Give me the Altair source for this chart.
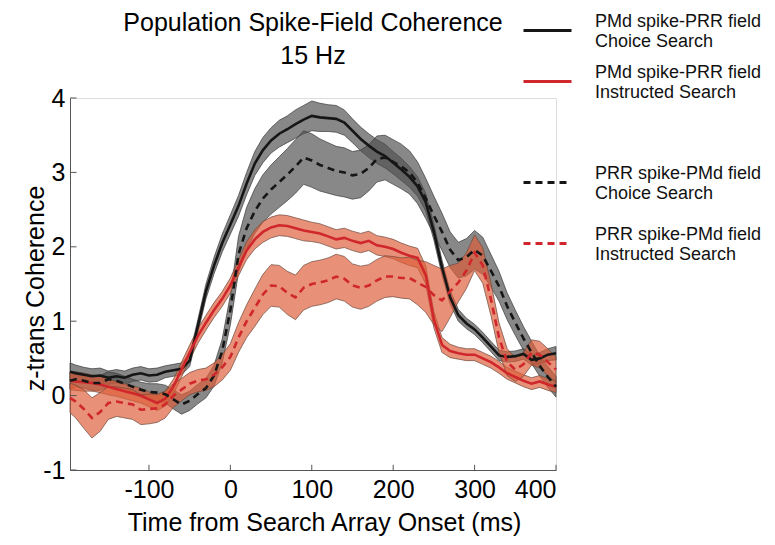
import altair as alt
import pandas as pd

# ---------------- data ----------------
times = [-197] + list(range(-190, 401, 10))

names = [
    "PMd spike-PRR field|Choice Search",
    "PMd spike-PRR field|Instructed Search",
    "PRR spike-PMd field|Choice Search",
    "PRR spike-PMd field|Instructed Search",
]

# PMd spike-PRR field, Choice Search (black solid)
pmd_choice_mean = [0.32, 0.30, 0.28, 0.26, 0.27, 0.24, 0.26, 0.24, 0.28, 0.30,
                   0.27, 0.28, 0.32, 0.34, 0.36, 0.47, 0.93, 1.40, 1.75, 2.05,
                   2.30, 2.55, 2.85, 3.12, 3.30, 3.43, 3.52, 3.58, 3.65, 3.71,
                   3.76, 3.74, 3.73, 3.72, 3.67, 3.56, 3.45, 3.36, 3.28, 3.22,
                   3.13, 3.04, 2.94, 2.81, 2.60, 2.20, 1.72, 1.32, 1.08, 0.97,
                   0.89, 0.78, 0.66, 0.54, 0.52, 0.53, 0.56, 0.48, 0.50, 0.55,
                   0.57]
pmd_choice_sem = [0.12, 0.11, 0.10, 0.10, 0.10, 0.09, 0.09, 0.09, 0.09, 0.09,
                  0.09, 0.09, 0.08, 0.08, 0.08, 0.08, 0.09, 0.10, 0.11, 0.12,
                  0.13, 0.14, 0.15, 0.16, 0.17, 0.17, 0.18, 0.18, 0.19, 0.19,
                  0.20, 0.19, 0.18, 0.18, 0.17, 0.16, 0.16, 0.16, 0.16, 0.16,
                  0.15, 0.15, 0.14, 0.13, 0.12, 0.11, 0.10, 0.09, 0.08, 0.07,
                  0.07, 0.07, 0.07, 0.07, 0.07, 0.07, 0.07, 0.07, 0.08, 0.08,
                  0.09]

# PMd spike-PRR field, Instructed Search (red solid)
pmd_instr_mean = [0.20, 0.19, 0.18, 0.17, 0.15, 0.12, 0.09, 0.06, 0.03, 0.00,
                  -0.05, -0.10, -0.04, 0.12, 0.35, 0.58, 0.80, 0.98, 1.15, 1.30,
                  1.48, 1.72, 1.95, 2.10, 2.20, 2.26, 2.29, 2.28, 2.25, 2.22,
                  2.20, 2.18, 2.14, 2.10, 2.12, 2.08, 2.05, 2.08, 2.02, 2.00,
                  1.97, 1.92, 1.88, 1.85, 1.62, 1.02, 0.68, 0.60, 0.57, 0.55,
                  0.55, 0.50, 0.45, 0.38, 0.30, 0.25, 0.20, 0.16, 0.19, 0.15,
                  0.12]
pmd_instr_sem = [0.12, 0.12, 0.12, 0.11, 0.11, 0.11, 0.10, 0.10, 0.10, 0.10,
                 0.10, 0.10, 0.10, 0.10, 0.10, 0.10, 0.10, 0.10, 0.10, 0.10,
                 0.10, 0.11, 0.12, 0.13, 0.14, 0.14, 0.14, 0.14, 0.14, 0.14,
                 0.13, 0.13, 0.13, 0.13, 0.13, 0.13, 0.13, 0.13, 0.13, 0.13,
                 0.13, 0.13, 0.13, 0.13, 0.12, 0.11, 0.10, 0.09, 0.08, 0.08,
                 0.08, 0.08, 0.08, 0.08, 0.08, 0.08, 0.08, 0.08, 0.08, 0.08,
                 0.08]

# PRR spike-PMd field, Choice Search (black dashed)
prr_choice_mean = [0.20, 0.22, 0.20, 0.17, 0.17, 0.22, 0.20, 0.16, 0.12, 0.08,
                   0.05, 0.04, 0.02, -0.05, -0.12, -0.07, 0.02, 0.10, 0.27, 0.60,
                   1.15, 1.90, 2.25, 2.48, 2.65, 2.77, 2.87, 2.97, 3.08, 3.20,
                   3.16, 3.10, 3.06, 3.02, 3.00, 2.96, 2.98, 3.06, 3.18, 3.20,
                   3.14, 3.08, 3.00, 2.86, 2.65, 2.42, 2.20, 1.96, 1.82, 1.86,
                   1.96, 1.88, 1.68, 1.47, 1.20, 0.98, 0.77, 0.58, 0.40, 0.25,
                   0.12]
prr_choice_sem = [0.11, 0.10, 0.10, 0.10, 0.10, 0.10, 0.10, 0.10, 0.10, 0.10,
                  0.11, 0.12, 0.12, 0.13, 0.13, 0.13, 0.13, 0.13, 0.14, 0.16,
                  0.20, 0.24, 0.28, 0.30, 0.32, 0.33, 0.34, 0.35, 0.36, 0.36,
                  0.36, 0.35, 0.34, 0.33, 0.33, 0.32, 0.32, 0.31, 0.31, 0.30,
                  0.30, 0.30, 0.29, 0.28, 0.27, 0.26, 0.25, 0.24, 0.24, 0.25,
                  0.26, 0.25, 0.22, 0.20, 0.18, 0.17, 0.16, 0.15, 0.14, 0.14,
                  0.14]

# PRR spike-PMd field, Instructed Search (red dashed)
prr_instr_mean = [-0.03, -0.08, -0.18, -0.30, -0.22, -0.10, -0.08, -0.10, -0.12, -0.19,
                  -0.18, -0.17, -0.12, 0.00, 0.08, 0.16, 0.20, 0.22, 0.28, 0.38,
                  0.52, 0.78, 1.00, 1.18, 1.36, 1.48, 1.47, 1.38, 1.32, 1.45,
                  1.50, 1.52, 1.55, 1.60, 1.57, 1.48, 1.45, 1.48, 1.55, 1.60,
                  1.60, 1.58, 1.58, 1.52, 1.46, 1.35, 1.28, 1.40, 1.52, 1.68,
                  1.92, 1.75, 1.30, 0.78, 0.45, 0.35, 0.42, 0.58, 0.55, 0.45,
                  0.35]
prr_instr_sem = [0.20, 0.22, 0.26, 0.27, 0.26, 0.22, 0.20, 0.20, 0.20, 0.20,
                 0.20, 0.19, 0.18, 0.16, 0.15, 0.15, 0.15, 0.15, 0.16, 0.17,
                 0.18, 0.20, 0.22, 0.25, 0.27, 0.28, 0.28, 0.29, 0.30, 0.30,
                 0.30, 0.30, 0.30, 0.30, 0.30, 0.29, 0.29, 0.28, 0.28, 0.28,
                 0.27, 0.27, 0.28, 0.30, 0.34, 0.40, 0.42, 0.35, 0.26, 0.24,
                 0.24, 0.24, 0.22, 0.20, 0.18, 0.16, 0.16, 0.17, 0.18, 0.18,
                 0.17]

x_ticks = [-100, 0, 100, 200, 300, 400]
y_ticks = [-1, 0, 1, 2, 3, 4]
x_domain = [-197, 400]
y_domain = [-1, 4]

# ---------------- build table ----------------
rows = []
for name, m, s in zip(names,
                      [pmd_choice_mean, pmd_instr_mean, prr_choice_mean, prr_instr_mean],
                      [pmd_choice_sem, pmd_instr_sem, prr_choice_sem, prr_instr_sem]):
    for t, mv, sv in zip(times, m, s):
        rows.append({"t": t, "series": name, "mean": mv, "lo": mv - sv, "hi": mv + sv})
df = pd.DataFrame(rows)

FONT = "Liberation Sans"
BLACK = "#161616"
RED = "#d0272d"

xscale = alt.Scale(domain=x_domain, nice=False, zero=False)
yscale = alt.Scale(domain=y_domain, nice=False, zero=False)

xaxis = alt.Axis(values=x_ticks, title="Time from Search Array Onset (ms)",
                 labelExpr="'' + datum.value", tickSize=0, labelPadding=7,
                 labelFontSize=25, labelFont=FONT, labelColor="black",
                 titleFontSize=25, titleFont=FONT, titleFontWeight="normal",
                 titleColor="black", titleBaseline="alphabetic",
                 titleX=254, titleY=60, titleAnchor="middle",
                 domainColor="#555555", domainWidth=1, grid=False)
yaxis = alt.Axis(values=y_ticks, title="z-trans Coherence",
                 labelExpr="'' + datum.value", tickSize=0, labelPadding=5,
                 labelFontSize=25, labelFont=FONT, labelColor="black",
                 titleFontSize=25, titleFont=FONT, titleFontWeight="normal",
                 titleColor="black", titleBaseline="alphabetic", titleAngle=-90,
                 titleX=-27, titleY=190, titleAlign="center",
                 domainColor="#555555", domainWidth=1, grid=False)

base = alt.Chart(df)

gray_bands = base.transform_filter(
    alt.FieldOneOfPredicate(field="series", oneOf=[names[0], names[2]])
).mark_area(fill="#505050", fillOpacity=0.68, stroke="#3c3c3c",
            strokeWidth=0.8, strokeOpacity=0.9).encode(
    x=alt.X("t:Q", scale=xscale, axis=xaxis),
    y=alt.Y("lo:Q", scale=yscale, axis=yaxis),
    y2="hi:Q",
    detail="series:N",
)

salmon_bands = base.transform_filter(
    alt.FieldOneOfPredicate(field="series", oneOf=[names[1], names[3]])
).mark_area(fill="#dd5d38", fillOpacity=0.68, stroke="#6e4a3e",
            strokeWidth=0.8, strokeOpacity=0.9).encode(
    x=alt.X("t:Q", scale=xscale),
    y=alt.Y("lo:Q", scale=yscale),
    y2="hi:Q",
    detail="series:N",
)

legend_common = dict(
    orient="none", title=None, symbolType="stroke", symbolSize=2304,
    symbolStrokeWidth=3, labelFont=FONT, labelFontSize=18, labelColor="#111111",
    labelOffset=22, labelLimit=400, padding=0,
    labelExpr="split(datum.label, '|')", labelBaseline="bottom",
)

solid_lines = base.transform_filter(
    alt.FieldOneOfPredicate(field="series", oneOf=[names[0], names[1]])
).mark_line(strokeWidth=2.6).encode(
    x=alt.X("t:Q", scale=xscale),
    y=alt.Y("mean:Q", scale=yscale),
    color=alt.Color("series:N",
                    scale=alt.Scale(domain=[names[0], names[1]], range=[BLACK, RED]),
                    legend=alt.Legend(legendX=452, legendY=-93, rowPadding=5,
                                      **legend_common)),
)

dashed_lines = base.transform_filter(
    alt.FieldOneOfPredicate(field="series", oneOf=[names[2], names[3]])
).mark_line(strokeWidth=2.6, strokeDash=[7, 5]).encode(
    x=alt.X("t:Q", scale=xscale),
    y=alt.Y("mean:Q", scale=yscale),
    stroke=alt.Stroke("series:N",
                      scale=alt.Scale(domain=[names[2], names[3]], range=[BLACK, RED]),
                      legend=alt.Legend(legendX=452, legendY=59, rowPadding=15,
                                        symbolDash=[7, 5], **legend_common)),
)

# inward tick marks (MATLAB style)
xt = pd.DataFrame({"t": x_ticks, "y0": [y_domain[0]] * len(x_ticks),
                   "y1": [y_domain[0] + 0.07] * len(x_ticks)})
yt = pd.DataFrame({"v": y_ticks, "x0": [x_domain[0]] * len(y_ticks),
                   "x1": [x_domain[0] + 8] * len(y_ticks)})
xtick_rules = alt.Chart(xt).mark_rule(color="#555555", strokeWidth=1).encode(
    x=alt.X("t:Q", scale=xscale), y=alt.Y("y0:Q", scale=yscale), y2="y1:Q")
ytick_rules = alt.Chart(yt).mark_rule(color="#555555", strokeWidth=1).encode(
    y=alt.Y("v:Q", scale=yscale), x=alt.X("x0:Q", scale=xscale), x2="x1:Q")

chart = alt.layer(
    gray_bands, salmon_bands, solid_lines, dashed_lines, xtick_rules, ytick_rules
).resolve_scale(
    color="independent", stroke="independent"
).properties(
    width=486, height=372,
    title=alt.Title(["Population Spike-Field Coherence", "15 Hz"],
                    fontSize=25, font=FONT, fontWeight="normal", color="black",
                    anchor="middle", frame="group", offset=0, dy=64,
                    lineHeight=33),
    autosize=alt.AutoSizeParams(type="none"),
    padding={"left": 70, "top": 98, "right": 219, "bottom": 75},
).configure_view(stroke=None).configure(background="white")

chart.save("out.html", embed_options={"renderer": "svg", "actions": False})
